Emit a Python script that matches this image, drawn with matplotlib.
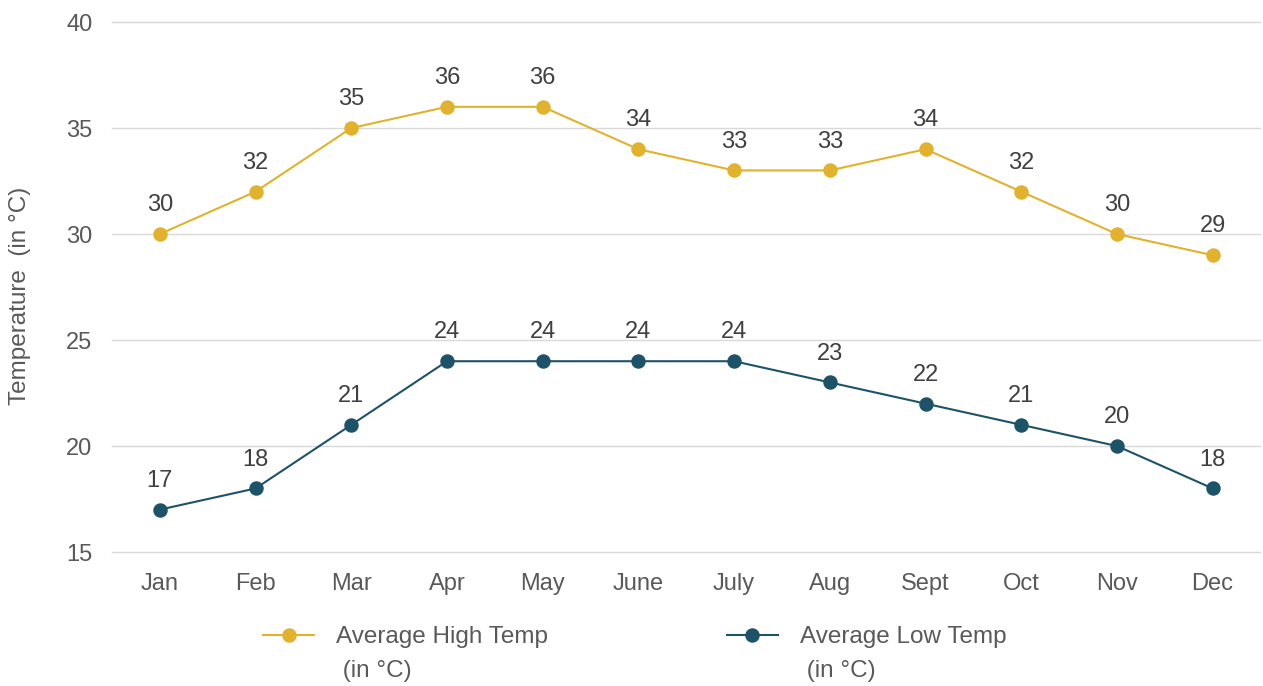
import matplotlib
matplotlib.use('Agg')
import matplotlib.pyplot as plt

months = ['Jan', 'Feb', 'Mar', 'Apr', 'May', 'June', 'July', 'Aug', 'Sept', 'Oct', 'Nov', 'Dec']
high_temps = [30, 32, 35, 36, 36, 34, 33, 33, 34, 32, 30, 29]
low_temps = [17, 18, 21, 24, 24, 24, 24, 23, 22, 21, 20, 18]
y_ticks = [15, 20, 25, 30, 35, 40]

plt.rcParams['font.family'] = ['Liberation Sans', 'DejaVu Sans']

HIGH_COLOR = '#E2B22C'
LOW_COLOR = '#1D5369'
TICK_COLOR = '#595959'
LABEL_COLOR = '#404040'
FS = 17
LEG_FS = 17.5

fig = plt.figure(figsize=(12.63, 6.86), dpi=100)
ax = fig.add_axes([0.0887, 0.1953, 0.9093, 0.7726])

x = list(range(len(months)))
series = [(high_temps, HIGH_COLOR, 'Average High Temp'),
          (low_temps, LOW_COLOR, 'Average Low Temp')]

lines = []
for vals, col, name in series:
    ln, = ax.plot(x, vals, color=col, marker='o', markersize=9.4, linewidth=1.5, label=name, zorder=3)
    lines.append(ln)
    for xi, v in zip(x, vals):
        ax.annotate(str(v), (xi, v), xytext=(0, 20.8), textcoords='offset points',
                    ha='center', va='center', fontsize=FS, color=LABEL_COLOR)

ax.set_xlim(-0.5, len(months) - 0.5)
ax.set_ylim(15, 40)
ax.set_yticks(y_ticks)
ax.set_xticks(x)
ax.set_xticklabels(months)
ax.tick_params(axis='both', length=0, labelsize=FS, labelcolor=TICK_COLOR)
ax.tick_params(axis='y', pad=14)
ax.tick_params(axis='x', pad=15)
ax.grid(axis='y', color='#D9D9D9', linewidth=1, clip_on=False)
ax.set_axisbelow(True)
for s in ax.spines.values():
    s.set_visible(False)

ax.set_ylabel('Temperature  (in °C)', fontsize=LEG_FS, color=TICK_COLOR)
ax.yaxis.set_label_coords(-0.0704, 0.483)

leg = fig.legend(handles=lines, loc='center', bbox_to_anchor=(0.5025, 0.0714), ncol=2,
                 frameon=False, handlelength=2.1, handletextpad=0.9, columnspacing=7.35,
                 fontsize=LEG_FS, labelcolor=TICK_COLOR)

# second line of each legend label, placed under the first line
fig.canvas.draw()
for t in leg.get_texts():
    bb = t.get_window_extent()
    fig.text(bb.x0, bb.y0 - 34 + bb.height / 2, ' (in °C)', transform=None,
             ha='left', va='center', fontsize=LEG_FS, color=TICK_COLOR)

fig.savefig('out.png', dpi=100)
